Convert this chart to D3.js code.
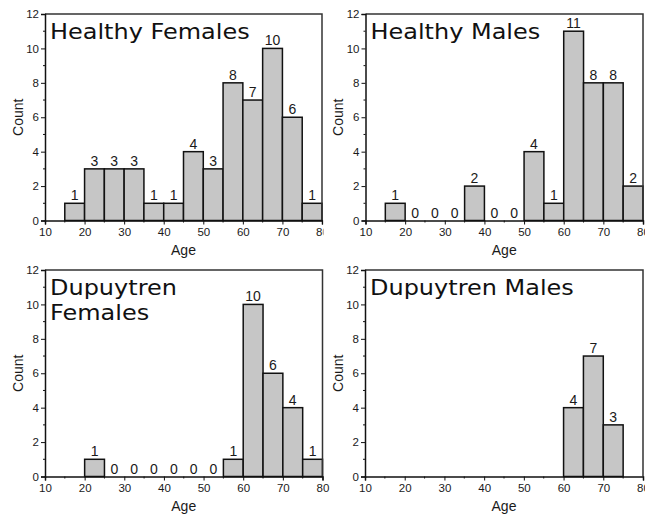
<!DOCTYPE html>
<html>
<head>
<meta charset="utf-8">
<script src="https://cdn.jsdelivr.net/npm/d3@7"></script>
<style>
  body { margin: 0; background: #fff; }
  svg { display: block; }
</style>
</head>
<body>
<svg id="chart" width="645" height="514"></svg>
<script>
// bins are 5 years wide, starting at these ages
const binStarts = [15, 20, 25, 30, 35, 40, 45, 50, 55, 60, 65, 70, 75];
const healthyFemales = [1, 3, 3, 3, 1, 1, 4, 3, 8, 7, 10, 6, 1];
const healthyMales = [1, 0, 0, 0, 2, 0, 0, 4, 1, 11, 8, 8, 2];
// null = bin not shown at all (no bar, no label)
const dupuytrenFemales = [null, 1, 0, 0, 0, 0, 0, 0, 1, 10, 6, 4, 1];
const dupuytrenMales = [null, null, null, null, null, null, null, null, null, 4, 7, 3, null];
const xTicks = [10, 20, 30, 40, 50, 60, 70, 80];
const xMinorTicks = [15, 25, 35, 45, 55, 65, 75];
const yTicks = [0, 2, 4, 6, 8, 10, 12];
const yMinorTicks = [1, 3, 5, 7, 9, 11];

var svg = d3.select('#chart');

var panels = [
  { title: ['Healthy Females'], counts: healthyFemales, left: 45, right: 322, top: 14, bottom: 220.5, clip: 323.5 },
  { title: ['Healthy Males'], counts: healthyMales, left: 365.5, right: 643, top: 14, bottom: 220.5, clip: null },
  { title: ['Dupuytren', 'Females'], counts: dupuytrenFemales, left: 45, right: 322.5, top: 270, bottom: 476.5, clip: null },
  { title: ['Dupuytren Males'], counts: dupuytrenMales, left: 365, right: 643, top: 270, bottom: 476.5, clip: null }
];

panels.forEach(function(p, idx) {
  drawPanel(p, idx);
});

function drawPanel(p, idx) {
  var g = svg.append('g');
  if (p.clip) {
    svg.append('clipPath').attr('id', 'clip' + idx)
       .append('rect').attr('x', 0).attr('y', 0).attr('width', p.clip).attr('height', 514);
    g.attr('clip-path', 'url(#clip' + idx + ')');
  }

  var x = d3.scaleLinear().domain([10, 80]).range([p.left, p.right]);
  var y = d3.scaleLinear().domain([0, 12]).range([p.bottom, p.top]);

  var data = binStarts.map((b, i) => ({ start: b, count: p.counts[i] })).filter(d => d.count !== null);

  // bars
  g.append('g').selectAll('rect').data(data.filter(d => d.count > 0)).enter().append('rect')
   .attr('x', d => x(d.start))
   .attr('y', d => y(d.count))
   .attr('width', d => x(d.start + 5) - x(d.start))
   .attr('height', d => y(0) - y(d.count))
   .attr('fill', '#c6c6c6')
   .attr('stroke', '#111')
   .attr('stroke-width', 1.5);

  // count labels
  g.append('g').selectAll('text').data(data).enter().append('text')
   .attr('x', d => x(d.start + 2.5))
   .attr('y', d => y(d.count) - 3)
   .attr('text-anchor', 'middle')
   .attr('font-family', 'Liberation Sans, Arial, sans-serif')
   .attr('font-size', 14)
   .attr('fill', '#1a1a1a')
   .text(d => d.count);

  // frame (top + right)
  g.append('path')
   .attr('d', 'M' + p.left + ',' + p.top + 'H' + p.right + 'V' + p.bottom)
   .attr('fill', 'none')
   .attr('stroke', '#333')
   .attr('stroke-width', 1.5);

  // y axis
  var yAxis = g.append('g').attr('transform', 'translate(' + p.left + ',0)')
               .call(d3.axisLeft(y).tickValues(yTicks).tickSize(4).tickPadding(2).tickFormat(d3.format('d')));
  yAxis.append('g').selectAll('line').data(yMinorTicks).enter().append('line')
       .attr('x1', -2).attr('x2', 0).attr('y1', d => y(d)).attr('y2', d => y(d))
       .attr('stroke', '#111');

  // x axis
  var xAxis = g.append('g').attr('transform', 'translate(0,' + p.bottom + ')')
               .call(d3.axisBottom(x).tickValues(xTicks).tickSize(4).tickPadding(2).tickFormat(d3.format('d')));
  xAxis.append('g').selectAll('line').data(xMinorTicks).enter().append('line')
       .attr('x1', d => x(d)).attr('x2', d => x(d)).attr('y1', 0).attr('y2', 2)
       .attr('stroke', '#111');

  [yAxis, xAxis].forEach(function(a) {
    a.selectAll('.domain').attr('stroke', '#111').attr('stroke-width', 1.5);
    a.selectAll('.tick line').attr('stroke', '#111');
    a.selectAll('.tick text')
     .attr('font-family', 'Liberation Sans, Arial, sans-serif')
     .attr('font-size', 11.5)
     .attr('fill', '#1a1a1a');
  });
  xAxis.selectAll('.tick text').attr('dy', '0.75em').attr('y', 7);

  // axis titles
  g.append('text')
   .attr('x', (p.left + p.right) / 2)
   .attr('y', p.bottom + 34.5)
   .attr('text-anchor', 'middle')
   .attr('font-family', 'Liberation Sans, Arial, sans-serif')
   .attr('font-size', 14)
   .attr('fill', '#1a1a1a')
   .text('Age');

  g.append('text')
   .attr('transform', 'translate(' + (p.left - 22.5) + ',' + ((p.top + p.bottom) / 2) + ') rotate(-90)')
   .attr('text-anchor', 'middle')
   .attr('font-family', 'Liberation Sans, Arial, sans-serif')
   .attr('font-size', 14)
   .attr('fill', '#1a1a1a')
   .text('Count');

  // panel title
  p.title.forEach(function(line, i) {
    g.append('text')
     .attr('transform', 'translate(' + (p.left + 5) + ',' + (p.top + 24.5 + i * 25) + ') scale(1.09,1)')
     .attr('font-family', 'DejaVu Sans, Verdana, sans-serif')
     .attr('font-size', 22)
     .attr('fill', '#111')
     .text(line);
  });
}
</script>
</body>
</html>
